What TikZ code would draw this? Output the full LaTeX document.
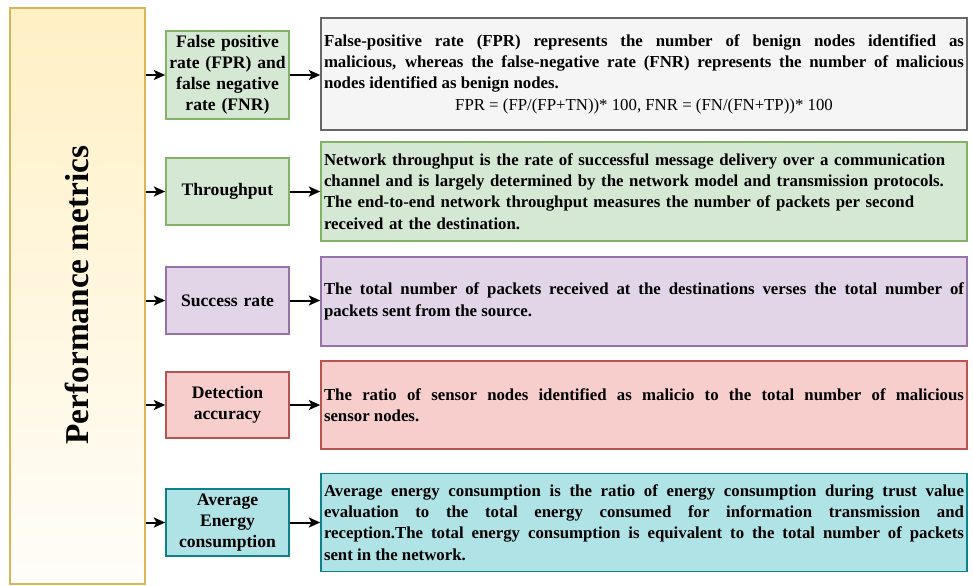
\documentclass[tikz,border=0pt]{standalone}
\usepackage{fontspec}
\setmainfont{Liberation Serif}
\usetikzlibrary{arrows.meta}
\definecolor{pmtop}{HTML}{FFF0C4}
\definecolor{pmbot}{HTML}{FFFDF9}
\definecolor{pmline}{HTML}{D6B656}
\definecolor{grfill}{HTML}{D5E8D4}
\definecolor{grline}{HTML}{82B366}
\definecolor{gyfill}{HTML}{F5F5F5}
\definecolor{gyline}{HTML}{666666}
\definecolor{pufill}{HTML}{E1D5E7}
\definecolor{puline}{HTML}{9673A6}
\definecolor{rdfill}{HTML}{F8CECC}
\definecolor{rdline}{HTML}{B85450}
\definecolor{tlfill}{HTML}{B0E3E6}
\definecolor{tlline}{HTML}{0E8088}
\newcommand{\jsetup}{\tolerance=10000\hbadness=10000\hyphenpenalty=10000\exhyphenpenalty=10000\emergencystretch=20pt}
\begin{document}
\begin{tikzpicture}[x=0.75pt,y=-0.75pt,
  smallbox/.style={draw, line width=1.2pt, minimum width=92.25pt, text width=88pt, align=center, inner xsep=2pt, inner ysep=0pt, font=\fontsize{13.2}{15.75}\selectfont\bfseries},
  bigbox/.style={draw, line width=1.2pt, minimum width=484.5pt, text width=480pt, inner xsep=2.25pt, inner ysep=0pt, font=\fontsize{12.6}{16}\selectfont\bfseries},
  conn/.style={-{Stealth[length=8.5pt,width=7.5pt,inset=2pt]}, line width=1.5pt}
]
\useasboundingbox (0,0) rectangle (973,585);
% left panel
\node[draw=pmline, line width=1.2pt, top color=pmtop, bottom color=pmbot, minimum width=101.25pt, minimum height=432pt, inner sep=0pt] (pm) at (77.5,296) {};
\node[rotate=90, font=\fontsize{25}{30}\selectfont\bfseries] (pmtext) at (77,295) {Performance metrics};
% small boxes
\node[smallbox, fill=grfill, draw=grline, minimum height=66pt] (s1) at (227.5,75) {False positive rate (FPR) and false negative rate (FNR)};
\node[smallbox, fill=grfill, draw=grline, minimum height=50.25pt] (s2) at (227.5,191.5) {Throughput};
\node[smallbox, fill=pufill, draw=puline, minimum height=50.25pt] (s3) at (227.5,300.5) {Success rate};
\node[smallbox, fill=rdfill, draw=rdline, minimum height=49.5pt] (s4) at (227.5,405) {Detection\\accuracy};
\node[smallbox, fill=tlfill, draw=tlline, minimum height=50.25pt] (s5) at (227.5,522.5) {Average\\Energy\\consumption};
% big boxes
\node[bigbox, align=justify, fill=gyfill, draw=gyline, minimum height=84pt] (b1) at (644,74) {\jsetup False-positive rate (FPR) represents the number of benign nodes identified as\linebreak malicious, whereas the false-negative rate (FNR) represents the number of malicious\linebreak nodes identified as benign nodes.\par{\centering\mdseries FPR = (FP/(FP+TN))* 100, FNR = (FN/(FN+TP))* 100\par}};
\node[bigbox, align=left, fill=grfill, draw=grline, minimum height=74.25pt] (b2) at (644,191.5) {\jsetup Network throughput is the rate of successful message delivery over a communication\\ channel and is largely determined by the network model and transmission protocols.\\ The end-to-end network throughput measures the number of packets per second\\ received at the destination.};
\node[bigbox, align=justify, fill=pufill, draw=puline, minimum height=66.75pt] (b3) at (644,301.5) {\jsetup The total number of packets received at the destinations verses the total number of\linebreak packets sent from the source.};
\node[bigbox, align=justify, fill=rdfill, draw=rdline, minimum height=66pt] (b4) at (644,405) {\jsetup The ratio of sensor nodes identified as malicio to the total number of malicious\linebreak sensor nodes.};
\node[bigbox, align=justify, fill=tlfill, draw=tlline, minimum height=73.5pt] (b5) at (644,522.5) {\jsetup Average energy consumption is the ratio of energy consumption during trust value\linebreak evaluation to the total energy consumed for information transmission and\linebreak reception.The total energy consumption is equivalent to the total number of packets\linebreak sent in the network.};
% connectors
\foreach \s/\b in {s1/b1,s2/b2,s3/b3,s4/b4,s5/b5}{
  \draw[conn] (\s.west -| pm.east) -- (\s.west);
  \draw[conn] (\s.east) -- (\s.east -| \b.west);
}
\end{tikzpicture}
\end{document}
